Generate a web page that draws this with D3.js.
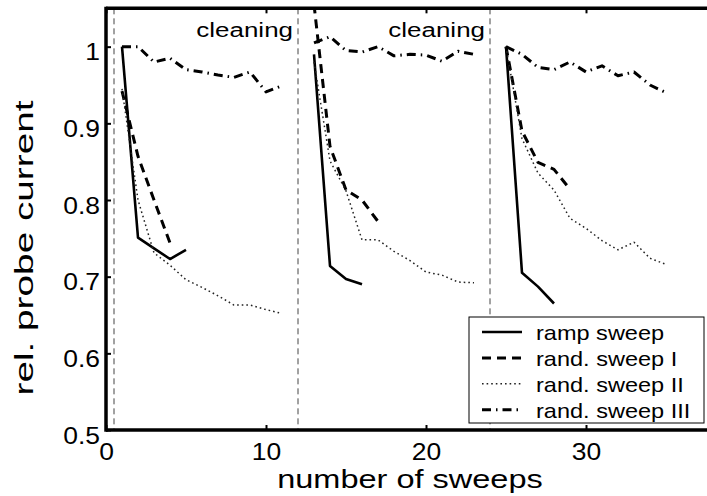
<!DOCTYPE html>
<html>
<head>
<meta charset="utf-8">
<script src="https://cdn.jsdelivr.net/npm/d3@7"></script>
<style>
  html, body { margin: 0; padding: 0; background: #fff; }
  text { font-family: "Liberation Sans", Arial, sans-serif; fill: #000; }
</style>
</head>
<body>
<svg id="chart" width="707" height="496"></svg>
<script>
// Numéros de balayage de chaque série (entre deux nettoyages)
const run1 = [1, 2, 3, 4, 5, 6, 7, 8, 9, 10, 11];
const run2 = [13, 14, 15, 16, 17, 18, 19, 20, 21, 22, 23];
const run3 = [25, 26, 27, 28, 29, 30, 31, 32, 33, 34, 35];

// Courant de sonde relatif
const rampSweep = [
    [1.0, 0.751, 0.737, 0.723, 0.735],
    [0.99, 0.714, 0.697, 0.690],
    [1.0, 0.705, 0.687, 0.665]
];
const randSweep1 = [
    [0.942, 0.857, 0.80, 0.744],
    [1.055, 0.87, 0.813, 0.80, 0.772],
    [1.0, 0.89, 0.849, 0.84, 0.814]
];
const randSweep2 = [
    [0.945, 0.80, 0.731, 0.715, 0.696, 0.686, 0.675, 0.663, 0.663, 0.657, 0.652],
    [0.98, 0.851, 0.812, 0.748, 0.748, 0.733, 0.721, 0.706, 0.702, 0.693, 0.692],
    [1.0, 0.88, 0.835, 0.813, 0.776, 0.763, 0.747, 0.735, 0.745, 0.724, 0.716]
];
const randSweep3 = [
    [1.0, 1.0, 0.98, 0.985, 0.97, 0.967, 0.963, 0.96, 0.967, 0.941, 0.949],
    [1.005, 1.013, 0.995, 0.993, 1.0, 0.988, 0.99, 0.989, 0.981, 0.994, 0.99],
    [1.0, 0.99, 0.973, 0.97, 0.98, 0.967, 0.975, 0.962, 0.967, 0.95, 0.94]
];

const seriesNames = ["ramp sweep", "rand. sweep I", "rand. sweep II", "rand. sweep III"];
const cleanings = [0.5, 12, 24];
const cleaningLabels = [12, 24];
const xTicks = [0, 10, 20, 30];
const yTicks = [0.5, 0.6, 0.7, 0.8, 0.9, 1];

// Styles des courbes (dans l'ordre de la légende)
const styles = [
    { width: 2.6, dash: null, color: "#000" },
    { width: 3, dash: "9,6", color: "#000" },
    { width: 1.5, dash: "1.6,3", color: "#222" },
    { width: 3, dash: "9,5,1.5,5", color: "#000" }
];

const svg = d3.select("#chart");

// Échelles
const xScale = d3.scaleLinear().domain([0, 38]).range([106, 714]);
const yScale = d3.scaleLinear().domain([0.5, 1.05]).range([430, 8.33]);

// Élargir un texte horizontalement (la figure d'origine est étirée)
function stretch(sel, k) {
    sel.each(function () {
        const w = this.getComputedTextLength();
        d3.select(this).attr("textLength", w * k).attr("lengthAdjust", "spacingAndGlyphs");
    });
}

// Zone de découpe du tracé
svg.append("clipPath").attr("id", "plotClip")
    .append("rect")
    .attr("x", xScale(0)).attr("y", yScale(1.05))
    .attr("width", xScale(38) - xScale(0))
    .attr("height", yScale(0.5) - yScale(1.05));

// Lignes verticales des nettoyages
svg.append("g")
    .selectAll("line")
    .data(cleanings)
    .enter().append("line")
    .attr("x1", d => xScale(d)).attr("x2", d => xScale(d))
    .attr("y1", yScale(1.05)).attr("y2", yScale(0.5))
    .attr("stroke", "#444")
    .attr("stroke-width", 1)
    .attr("stroke-dasharray", "6,4");

// Étiquettes "cleaning"
svg.append("g")
    .selectAll("text")
    .data(cleaningLabels)
    .enter().append("text")
    .attr("x", d => xScale(d) - 5)
    .attr("y", 37)
    .attr("text-anchor", "end")
    .style("font-size", "19.5px")
    .text("cleaning")
    .call(stretch, 1.33);

// Courbes
const line = d3.line()
    .x(d => xScale(d[0]))
    .y(d => yScale(d[1]));

const allSeries = [rampSweep, randSweep1, randSweep2, randSweep3];
const runs = [run1, run2, run3];
const plot = svg.append("g").attr("clip-path", "url(#plotClip)");

allSeries.forEach((series, i) => {
    series.forEach((values, r) => {
        const pts = values.map((v, j) => [runs[r][j], v]);
        plot.append("path")
            .datum(pts)
            .attr("d", line)
            .attr("fill", "none")
            .attr("stroke", styles[i].color)
            .attr("stroke-width", styles[i].width)
            .attr("stroke-dasharray", styles[i].dash)
            .attr("stroke-linejoin", "round");
    });
});

// Axes
const xAxis = svg.append("g")
    .attr("transform", `translate(0, ${yScale(0.5)})`)
    .call(d3.axisBottom(xScale).tickValues(xTicks).tickSize(-5).tickPadding(13.5).tickFormat(d => d));

const topAxis = svg.append("g")
    .attr("transform", `translate(0, ${yScale(1.05)})`)
    .call(d3.axisTop(xScale).tickValues(xTicks).tickSize(-5).tickFormat(""));

const yAxis = svg.append("g")
    .attr("transform", `translate(${xScale(0)}, 0)`)
    .call(d3.axisLeft(yScale).tickValues(yTicks).tickSize(-5).tickPadding(6).tickFormat(d => d));

svg.selectAll(".domain").remove();
svg.selectAll(".tick line").attr("stroke", "#000").attr("stroke-width", 2);

xAxis.selectAll("text")
    .attr("fill", "#000")
    .style("font-size", "23px")
    .style("font-family", "'Liberation Sans', Arial, sans-serif")
    .call(stretch, 1.15);

yAxis.selectAll("text")
    .attr("fill", "#000")
    .attr("dy", "0.57em")
    .style("font-size", "23px")
    .style("font-family", "'Liberation Sans', Arial, sans-serif")
    .call(stretch, 1.15);

// Cadre (gauche, bas, haut)
const frame = svg.append("g")
    .attr("stroke", "#000")
    .attr("stroke-width", 3.5)
    .attr("fill", "none");
frame.append("line")
    .attr("x1", xScale(0)).attr("x2", xScale(0))
    .attr("y1", yScale(1.05) - 1.5).attr("y2", yScale(0.5) + 1.75);
frame.append("line")
    .attr("x1", xScale(0)).attr("x2", xScale(38))
    .attr("y1", yScale(0.5)).attr("y2", yScale(0.5));
frame.append("line")
    .attr("x1", xScale(0)).attr("x2", xScale(38))
    .attr("y1", yScale(1.05)).attr("y2", yScale(1.05));

// Titres des axes
svg.append("text")
    .attr("x", 410)
    .attr("y", 488)
    .attr("text-anchor", "middle")
    .style("font-size", "26px")
    .text("number of sweeps")
    .call(stretch, 1.25);

svg.append("text")
    .attr("transform", "translate(33, 248) rotate(-90)")
    .attr("text-anchor", "middle")
    .style("font-size", "25px")
    .text("rel. probe current")
    .call(stretch, 1.55);

// Légende
const legend = svg.append("g").attr("transform", "translate(469, 317)");
legend.append("rect")
    .attr("width", 235)
    .attr("height", 106)
    .attr("fill", "#fff")
    .attr("stroke", "#000")
    .attr("stroke-width", 1);

const rows = legend.selectAll(".row")
    .data(seriesNames)
    .enter().append("g")
    .attr("class", "row")
    .attr("transform", (d, i) => `translate(0, ${15 + i * 25.9})`);

rows.append("line")
    .attr("x1", 13).attr("x2", 53)
    .attr("y1", 0).attr("y2", 0)
    .attr("stroke", (d, i) => styles[i].color)
    .attr("stroke-width", (d, i) => styles[i].width)
    .attr("stroke-dasharray", (d, i) => styles[i].dash);

rows.append("text")
    .attr("x", 67)
    .attr("y", 8)
    .style("font-size", "21px")
    .text(d => d)
    .call(stretch, 1.12);
</script>
</body>
</html>
